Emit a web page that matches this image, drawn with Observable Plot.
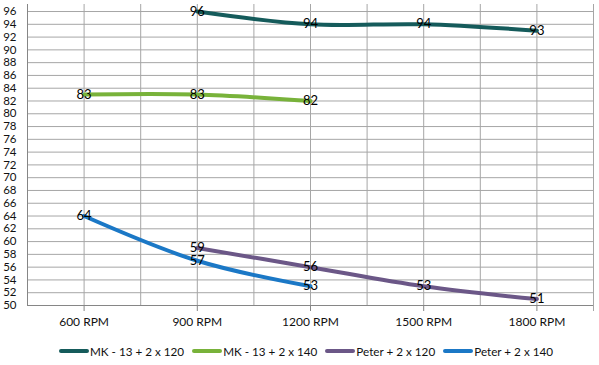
<!DOCTYPE html>
<html><head><meta charset="utf-8">
<script src="https://cdn.jsdelivr.net/npm/d3@7"></script>
<script src="https://cdn.jsdelivr.net/npm/@observablehq/plot@0.6"></script>
<style>
body{margin:0;background:#fff;font-family:Lato,"Open Sans",sans-serif;}
#legend{display:flex;justify-content:center;align-items:center;width:578px;padding-left:21px;height:16px;margin-top:8px;font-size:11.7px;color:#111;}
.item{display:flex;align-items:center;margin-right:8px;white-space:nowrap}
.swatch{width:30px;height:4px;border-radius:2px;margin-right:1px}
</style></head><body>
<div id="chart"></div><div id="legend"></div>
<script>
const categories = ["600 RPM","900 RPM","1200 RPM","1500 RPM","1800 RPM"];
const seriesNames = ["MK - 13 + 2 x 120","MK - 13 + 2 x 140","Peter + 2 x 120","Peter + 2 x 140"];
const mk120 = [null,96,94,94,93];
const mk140 = [83,83,82,null,null];
const peter120 = [null,59,56,53,51];
const peter140 = [64,57,53,null,null];
const yTicks = d3.range(50, 97, 2);
const colors = ["#155b5b","#78b23a","#6b5787","#1b78c6"];

const seriesValues = [mk120, mk140, peter120, peter140];
const data = [];
seriesValues.forEach((vals, si) => vals.forEach((v, i) => {
  if (v != null) data.push({s: seriesNames[si], i, v});
}));

const centers = d3.range(0, categories.length);
const bounds = d3.range(0.5, categories.length, 1);

const plot = Plot.plot({
  width: 599, height: 335,
  marginLeft: 27, marginRight: 6, marginTop: 4, marginBottom: 30,
  style: {fontFamily: "Lato, 'Open Sans', sans-serif", fontSize: "12px", color: "#111", background: "#fff"},
  x: {type: "linear", domain: [-0.5, categories.length - 0.5], axis: null, label: null},
  y: {domain: [50, 97.1], axis: null, label: null},
  color: {domain: seriesNames, range: colors},
  marks: [
    Plot.ruleY(yTicks.slice(1), {stroke: "#a6a6a6", strokeWidth: 1}),
    Plot.ruleX(centers.concat(bounds.slice(0, -1)), {stroke: "#a6a6a6", strokeWidth: 1}),
    Plot.ruleX([categories.length - 0.5], {y1: 49.06, y2: 97.1, stroke: "#a6a6a6", strokeWidth: 1}),
    Plot.ruleX([-0.5], {stroke: "#868686", strokeWidth: 1}),
    Plot.ruleY([50], {stroke: "#868686", strokeWidth: 1}),
    Plot.axisX(centers, {label: null, tickSize: 6, tickPadding: 6, stroke: "#868686", tickFormat: i => categories[i], fontSize: 12, fill: "#111"}),
    Plot.axisY(yTicks, {label: null, tickSize: 0, tickPadding: 11, fontSize: 11.5, fill: "#111"}),
    Plot.line(data, {x: "i", y: "v", z: "s", stroke: "s", strokeWidth: 4, curve: "catmull-rom", strokeLinecap: "round"}),
    Plot.text(data, {x: "i", y: "v", text: d => String(d.v), fill: "#000", fontSize: 13})
  ]
});
document.getElementById("chart").appendChild(plot);

const legend = document.getElementById("legend");
seriesNames.forEach((name, k) => {
  const item = document.createElement("div");
  item.className = "item";
  const sw = document.createElement("span");
  sw.className = "swatch";
  sw.style.background = colors[k];
  const t = document.createElement("span");
  t.textContent = name;
  item.appendChild(sw); item.appendChild(t);
  legend.appendChild(item);
});
</script>
</body></html>
